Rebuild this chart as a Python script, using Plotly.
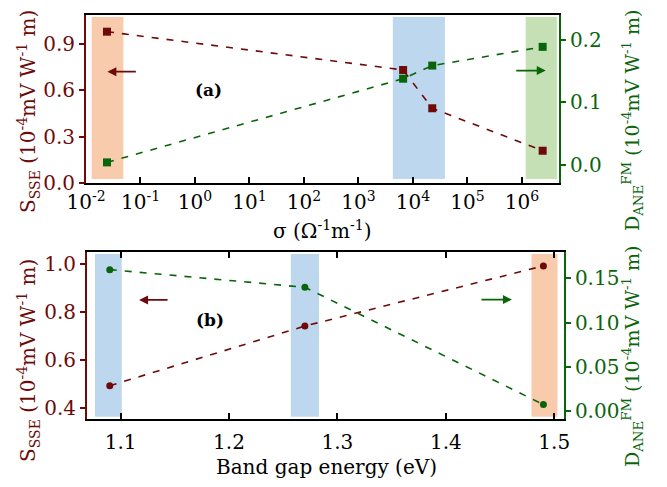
import plotly.graph_objects as go

# ---------------- data ----------------
# panel (a): versus conductivity
sigma = [0.0243, 6.6e3, 2.26e4, 2.4e6]
s_sse_a = [0.98, 0.732, 0.484, 0.209]
d_ane_a = [0.004, 0.138, 0.159, 0.189]
band_a_lo = [0.0127, 4270, 1.17e6]
band_a_hi = [0.0485, 3.86e4, 4.37e6]
band_a_col = ["#F8CBAD", "#BDD7EE", "#C5E0B4"]
x_a_tickvals = [1e-2, 1e-1, 1e0, 1e1, 1e2, 1e3, 1e4, 1e5, 1e6]
x_a_ticktext = ["10<sup>-2</sup>", "10<sup>-1</sup>", "10<sup>0</sup>", "10<sup>1</sup>",
                "10<sup>2</sup>", "10<sup>3</sup>", "10<sup>4</sup>", "10<sup>5</sup>", "10<sup>6</sup>"]

# panel (b): versus band gap energy
gap = [1.09, 1.27, 1.49]
s_sse_b = [0.492, 0.741, 0.992]
d_ane_b = [0.160, 0.140, 0.007]
band_b_lo = [1.0764, 1.257, 1.479]
band_b_hi = [1.101, 1.283, 1.503]
band_b_col = ["#BDD7EE", "#BDD7EE", "#F8CBAD"]

RED = "#6E0A0A"
GRN = "#0A640A"
FONT = "DejaVu Serif"
FS_TICK = 20
W, H = 667, 487
OFF = 8  # page offset of the figure (body margin)

fig = go.Figure()

dash = "7px,8px"
fig.add_trace(go.Scatter(x=sigma, y=s_sse_a, xaxis="x", yaxis="y", mode="lines+markers",
                         line=dict(color=RED, width=1.6, dash=dash),
                         marker=dict(symbol="square", size=8, color=RED)))
fig.add_trace(go.Scatter(x=sigma, y=d_ane_a, xaxis="x", yaxis="y2", mode="lines+markers",
                         line=dict(color=GRN, width=1.6, dash=dash),
                         marker=dict(symbol="square", size=8, color=GRN)))
fig.add_trace(go.Scatter(x=gap, y=s_sse_b, xaxis="x2", yaxis="y3", mode="lines+markers",
                         line=dict(color=RED, width=1.6, dash=dash),
                         marker=dict(symbol="circle", size=7, color=RED)))
fig.add_trace(go.Scatter(x=gap, y=d_ane_b, xaxis="x2", yaxis="y4", mode="lines+markers",
                         line=dict(color=GRN, width=1.6, dash=dash),
                         marker=dict(symbol="circle", size=7, color=GRN)))

shapes = []
for lo, hi, c in zip(band_a_lo, band_a_hi, band_a_col):
    shapes.append(dict(type="rect", xref="x", yref="y domain", x0=lo, x1=hi, y0=0.024, y1=0.988,
                       fillcolor=c, line=dict(width=0), layer="below"))
for lo, hi, c in zip(band_b_lo, band_b_hi, band_b_col):
    shapes.append(dict(type="rect", xref="x2", yref="y3 domain", x0=lo, x1=hi, y0=0.014, y1=0.988,
                       fillcolor=c, line=dict(width=0), layer="below"))


def fx(x):
    return (x - OFF) / W


def fy(y):
    return 1 - (y - OFF) / H


dom_a_x = [fx(86), fx(559)]
dom_a_y = [fy(183), fy(15)]
dom_b_x = [fx(87), fx(564)]
dom_b_y = [fy(419), fy(252)]

tickfont = dict(family=FONT, size=FS_TICK, color="black")
xcommon = dict(showline=True, linecolor="black", linewidth=1.8, ticks="inside", ticklen=6,
               tickcolor="black", tickwidth=1.5, showgrid=False, zeroline=False,
               tickfont=tickfont, automargin=False)


def ycommon(col):
    return dict(showline=True, linecolor=col, linewidth=1.8, ticks="outside", ticklen=5,
                tickcolor=col, tickwidth=1.5, showgrid=False, zeroline=False,
                tickfont=dict(family=FONT, size=FS_TICK, color=col), automargin=False)


annotations = []
# arrows
annotations.append(dict(xref="x", yref="y", x=-1.608, y=0.721, ax=30, ay=0,
                        showarrow=True, arrowhead=2, arrowsize=1, arrowwidth=1.8, arrowcolor=RED, text=""))
annotations.append(dict(xref="x", yref="y2", x=6.437, y=0.151, ax=-31, ay=0,
                        showarrow=True, arrowhead=2, arrowsize=1, arrowwidth=1.8, arrowcolor=GRN, text=""))
annotations.append(dict(xref="x2", yref="y3", x=1.117, y=0.85, ax=30, ay=0,
                        showarrow=True, arrowhead=2, arrowsize=1, arrowwidth=1.8, arrowcolor=RED, text=""))
annotations.append(dict(xref="x2", yref="y4", x=1.461, y=0.126, ax=-32, ay=0,
                        showarrow=True, arrowhead=2, arrowsize=1, arrowwidth=1.8, arrowcolor=GRN, text=""))
# panel labels
annotations.append(dict(xref="x", yref="y", x=0.243, y=0.603, text="<b>(a)</b>", showarrow=False,
                        font=dict(family=FONT, size=17, color="black")))
annotations.append(dict(xref="x2", yref="y3", x=1.182, y=0.766, text="<b>(b)</b>", showarrow=False,
                        font=dict(family=FONT, size=17, color="black")))

s_title = "S<sub>SSE</sub> (10<sup>-4</sup>mV W<sup>-1</sup> m)"
d_title = "D<sub>ANE</sub><sup>FM</sup> (10<sup>-4</sup>mV W<sup>-1</sup> m)"


def title_ann(text, x, y, col, angle, size):
    return dict(xref="paper", yref="paper", x=fx(x), y=fy(y), text=text, showarrow=False,
                textangle=angle, xanchor="center", yanchor="middle",
                font=dict(family=FONT, size=size, color=col))


annotations.append(title_ann(s_title, 28, 112, RED, -90, 20))
annotations.append(title_ann(s_title, 28, 361, RED, -90, 20))
annotations.append(title_ann(d_title, 632, 121, GRN, -90, 19))
annotations.append(title_ann(d_title, 632, 357, GRN, -90, 19))
annotations.append(title_ann("σ (Ω<sup>-1</sup>m<sup>-1</sup>)", 322, 230, "black", 0, 20))
annotations.append(title_ann("Band gap energy (eV)", 326, 467, "black", 0, 20))

fig.update_layout(
    width=W, height=H,
    margin=dict(l=0, r=0, t=0, b=0),
    paper_bgcolor="white", plot_bgcolor="white",
    showlegend=False,
    font=dict(family=FONT, size=FS_TICK),
    xaxis=dict(**xcommon, type="log", range=[-2, 6.68], domain=dom_a_x, anchor="y", mirror=True,
               tickvals=x_a_tickvals, ticktext=x_a_ticktext),
    yaxis=dict(**ycommon(RED), domain=dom_a_y, anchor="x", range=[0, 1.088],
               tickvals=[0, 0.3, 0.6, 0.9], tickformat=".1f"),
    yaxis2=dict(**ycommon(GRN), overlaying="y", side="right", anchor="x", range=[-0.029, 0.24],
                tickvals=[0, 0.1, 0.2], tickformat=".1f"),
    xaxis2=dict(**xcommon, domain=dom_b_x, anchor="y3", mirror="ticks", range=[1.069, 1.509],
                tickvals=[1.1, 1.2, 1.3, 1.4, 1.5], tickformat=".1f", ticklabelstandoff=4),
    yaxis3=dict(**ycommon(RED), domain=dom_b_y, anchor="x2", range=[0.353, 1.05],
                tickvals=[0.4, 0.6, 0.8, 1.0], tickformat=".1f"),
    yaxis4=dict(**ycommon(GRN), overlaying="y3", side="right", anchor="x2", range=[-0.0094, 0.18],
                tickvals=[0, 0.05, 0.10, 0.15], tickformat=".2f"),
    shapes=shapes,
    annotations=annotations,
)

fig.write_html("out.html")
